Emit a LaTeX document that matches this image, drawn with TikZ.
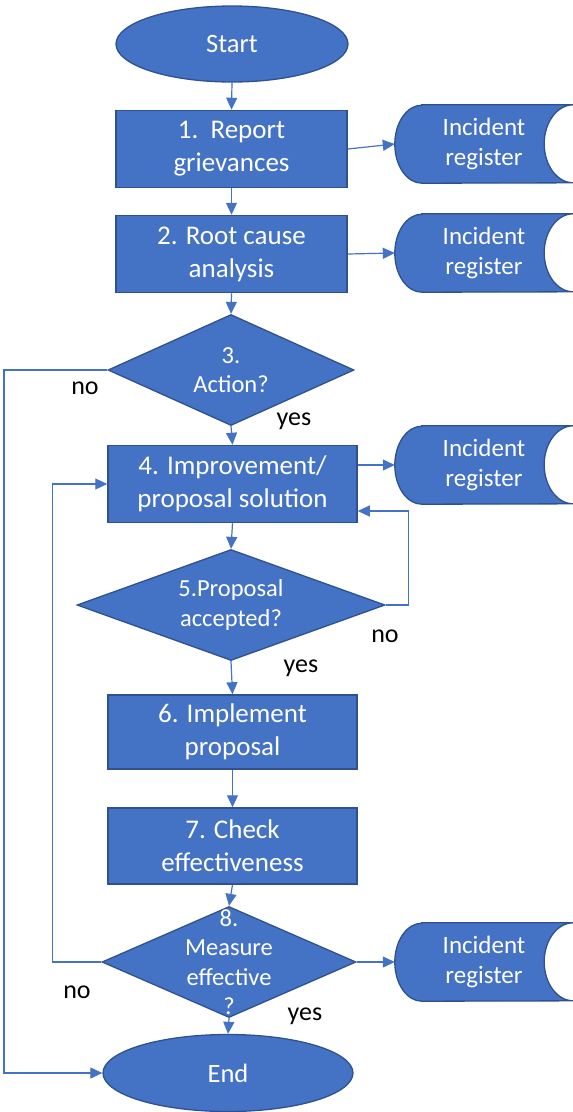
\documentclass[tikz,border=0pt]{standalone}
\usepackage{fontspec}
\setmainfont{Carlito}
\usetikzlibrary{shapes.geometric,arrows.meta,backgrounds}
\definecolor{ofblue}{HTML}{4472C4}
\definecolor{ofedge}{HTML}{2F528F}

\begin{document}
\begin{tikzpicture}[x=1pt,y=1pt,
        termnode/.style={ellipse, fill=ofblue, draw=ofedge, line width=1.3pt, minimum height=76pt, text=white, font=\fontsize{26.5pt}{32pt}\selectfont},
        stepbox/.style={rectangle, fill=ofblue, draw=ofedge, line width=1.5pt, minimum width=249pt, minimum height=77pt, inner sep=0pt, align=center, text=white, font=\fontsize{27pt}{33pt}\selectfont},
        decision/.style={diamond, fill=ofblue, draw=ofedge, line width=1.3pt, inner sep=0pt, minimum height=111pt},
        dtext/.style={align=center, text=white, font=\fontsize{24.5pt}{29.5pt}\selectfont},
        regnode/.style={rectangle, minimum width=178pt, minimum height=78pt, inner sep=0pt, align=center, text=white, font=\fontsize{25pt}{30pt}\selectfont},
        flow/.style={draw=ofblue, line width=1.2pt, -{Triangle[length=12pt,width=11pt]}},
        yn/.style={text=black, font=\fontsize{26pt}{30pt}\selectfont}]
        \useasboundingbox (0,0) rectangle (573,-1112);

        % main column
        \node[termnode, minimum width=232pt] (start) at (232,-44) {Start};
        \node[stepbox, minimum width=231pt] (rep) at (231.5,-149) {1.\ \ Report\\grievances};
        \node[stepbox, minimum width=231pt] (rca) at (231.5,-254) {2. Root cause\\analysis};
        \node[decision, minimum width=246pt, label={[dtext]center:{3.\\Action?}}] (act) at (231,-370) {};
        \node[stepbox] (imp) at (232.5,-484) {4. Improvement/\\proposal solution};
        \node[decision, minimum width=308pt, label={[dtext]center:{5.Proposal\\accepted?}}] (acc) at (231,-605) {};
        \node[stepbox, minimum height=74pt] (impl) at (232.5,-732) {6. Implement\\proposal};
        \node[stepbox, minimum height=76pt] (chk) at (232.5,-846) {7. Check\\effectiveness};
        \node[decision, minimum width=254pt, label={[dtext]center:{8.\\Measure\\effective\\?}}] (meas) at (229,-962) {};
        \node[termnode, minimum width=250pt, minimum height=77pt] (fin) at (228,-1073) {End};

        % incident registers
        \node[regnode] (reg1) at (484,-144) {Incident\\register};
        \node[regnode] (reg2) at (484,-253) {Incident\\register};
        \node[regnode] (reg3) at (484,-465) {Incident\\register};
        \node[regnode] (reg4) at (484,-962) {Incident\\register};
        \begin{scope}[on background layer]
            \foreach \r in {reg1,reg2,reg3,reg4}
                \draw[fill=ofblue, draw=ofedge, line width=1.3pt] ([xshift=27pt]\r.north west) -- (\r.north east)
                    arc[start angle=90, end angle=270, x radius=29pt, y radius=39pt]
                    -- ([xshift=27pt]\r.south west)
                    arc[start angle=270, end angle=90, x radius=27pt, y radius=39pt] -- cycle;
        \end{scope}

        % yes / no
        \node[yn] (no3) at (85,-388) {no};
        \node[yn] (yes3) at (294,-421) {yes};
        \node[yn] (no5) at (385,-636) {no};
        \node[yn] (yes5) at (301,-668) {yes};
        \node[yn] (no8) at (77,-992) {no};
        \node[yn] (yes8) at (305,-1016) {yes};

        \coordinate (outer) at (4,-370);

        % connectors
        \draw[flow] (start.south) -- (rep.north);
        \draw[flow] (rep.east) -- (reg1.west);
        \draw[flow] (rep.south) -- (rca.north);
        \draw[flow] (rca.east) -- (reg2.west);
        \draw[flow] (rca.south) -- (act.north);
        \draw[flow] (act.south) -- (imp.north);
        \draw[flow] (act.west) -- (outer) |- (fin.west);
        \draw[flow] (imp.east |- reg3.west) -- (reg3.west);
        \draw[flow] (imp.south) -- (acc.north);
        \draw[flow] (acc.east) -- ++(23,0) |- ([yshift=-27pt]imp.east);
        \draw[flow] (acc.south) -- (impl.north);
        \draw[flow] (impl.south) -- (chk.north);
        \draw[flow] (chk.south) -- (meas.north);
        \draw[flow] (meas.west) -- ++(-49,0) |- (imp.west);
        \draw[flow] (meas.south) -- (fin.north);
        \draw[flow] (meas.east) -- (reg4.west);
    \end{tikzpicture}
\end{document}
